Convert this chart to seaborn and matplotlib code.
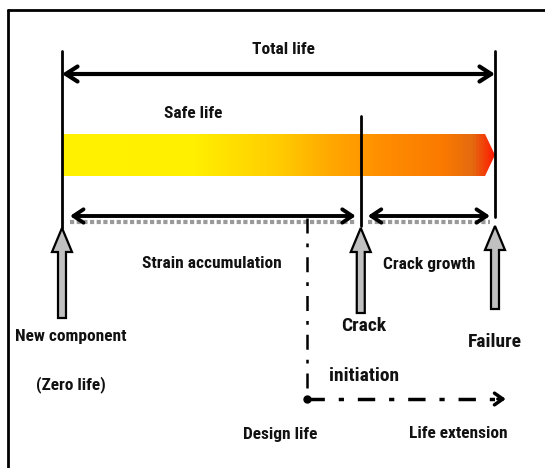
import numpy as np
import matplotlib
matplotlib.use("Agg")
import matplotlib.pyplot as plt
import seaborn as sns
from matplotlib import font_manager as fm
from matplotlib.colors import LinearSegmentedColormap
from matplotlib.patches import Polygon, FancyArrow
from matplotlib.lines import Line2D

# ---- data (life fractions) ----
milestones = ["New component", "Crack initiation", "Failure"]
milestone_life = [0.0, 0.69, 1.0]
design_life = 0.566
extension_end = 1.025
labels = ["Total life", "Safe life", "Strain accumulation", "Crack growth",
          "New component", "(Zero life)", "Crack", "initiation", "Failure",
          "Design life", "Life extension"]

sns.set_theme(style="white")


def pick_font():
    for fam in ["Liberation Sans Narrow", "Roboto Condensed", "Open Sans Condensed"]:
        try:
            fm.findfont(fm.FontProperties(family=fam, weight="bold"), fallback_to_default=False)
            return fam, "normal"
        except Exception:
            pass
    return "DejaVu Sans", "condensed"


FAM, STRETCH = pick_font()
plt.rcParams['font.family'] = [FAM, 'DejaVu Sans']

fig = plt.figure(figsize=(5.45, 4.68), dpi=100)
ax = fig.add_axes([0, 0, 1, 1])
PX = 433.0
ax.set_xlim(-62 / PX, (545 - 62) / PX)
ax.set_ylim(468, 0)
ax.axis("off")

# frame (top and left only visible)
fig.add_artist(Line2D([8/545, 1], [1 - 10/468, 1 - 10/468], color="black", lw=2, transform=fig.transFigure))
fig.add_artist(Line2D([8/545, 8/545], [1 - 10/468, 0], color="black", lw=2, transform=fig.transFigure))

x0, xc, xf = milestone_life

# gradient bar
cmap = LinearSegmentedColormap.from_list("life", [
    (0.0, "#FFF200"), (0.30, "#FFF000"), (0.50, "#FFCC00"), (0.62, "#FFA800"),
    (0.75, "#FF8C00"), (0.88, "#FA7A00"), (0.95, "#E46A10"), (1.0, "#FF1A00")])
grad = np.linspace(0, 1, 400).reshape(1, -1)
bar_top, bar_bot = 134, 176
tip_start = 0.977
im = ax.imshow(grad, cmap=cmap, aspect="auto", extent=[x0, xf, bar_bot, bar_top], zorder=1)
clip = Polygon([[x0, bar_top], [tip_start, bar_top], [xf, (bar_top + bar_bot) / 2],
                [tip_start, bar_bot], [x0, bar_bot]], closed=True, transform=ax.transData)
im.set_clip_path(clip)

# vertical markers
sns.lineplot(x=[x0, x0], y=[51, 228], color="black", lw=2, ax=ax, estimator=None, sort=False)
sns.lineplot(x=[xf, xf], y=[51, 217], color="black", lw=2, ax=ax, estimator=None, sort=False)
sns.lineplot(x=[xc, xc], y=[116, 226], color="black", lw=2, ax=ax, estimator=None, sort=False)

arrow_kw = dict(arrowstyle="<->,head_length=0.7,head_width=0.45", lw=3, color="black",
                shrinkA=0, shrinkB=0)
# total life
ax.annotate("", xy=(x0, 74), xytext=(xf, 74), arrowprops=arrow_kw)
# strain accumulation and crack growth arrows with dotted shadow
seg1 = (x0 + 8 / PX, xc - 5 / PX)
seg2 = (xc + 7 / PX, xf - 5 / PX)
for a, b in (seg1, seg2):
    ax.plot([a, b], [221.5, 221.5], color="#9a9a9a", lw=3, ls=(0, (1, 0.6)), zorder=2)
    ax.annotate("", xy=(a, 216), xytext=(b, 216), arrowprops=dict(
        arrowstyle="<->,head_length=0.6,head_width=0.4", lw=2.8, color="black",
        shrinkA=0, shrinkB=0))

# design life dash-dot lines
ax.plot([design_life, design_life], [218, 399], color="black", lw=1.8, ls=(0, (6, 4, 1.5, 4)))
ax.plot([design_life, extension_end - 6 / PX], [399, 399], color="black", lw=2.5,
        ls=(0, (5, 4, 1.5, 4)))
ax.plot([design_life], [399], marker="o", ms=5, color="black")
ax.annotate("", xy=(extension_end, 399), xytext=(extension_end - 8 / PX, 399),
            arrowprops=dict(arrowstyle="->,head_length=0.5,head_width=0.35", lw=2.5,
                            color="black", shrinkA=0, shrinkB=0))

# grey upward arrows
tips = [228, 228, 226]
bases = [318, 313, 309]
for x, t, b in zip(milestone_life, tips, bases):
    ax.add_patch(FancyArrow(x, b, 0, t - b, width=8 / PX, head_width=20 / PX,
                            head_length=24, length_includes_head=True,
                            facecolor="#C0C0C0", edgecolor="black", lw=1.6, zorder=3))

# text
fs = 10.5 if STRETCH == "condensed" else 12.5
txt = dict(ha="center", va="center", fontweight="bold", color="#111111", fontstretch=STRETCH)
text_pos = [(283, 49), (193, 113), (212, 264), (429, 264), (71, 336), (71, 385),
            (364, 326), (364, 376), (495, 342), (280, 434), (458, 434)]
sizes = [fs, fs, fs, fs, fs, fs, fs + 1.5, fs + 1.5, fs + 1.5, fs, fs]
for lab, (px, py), s in zip(labels, text_pos, sizes):
    ax.text((px - 62) / PX, py, lab, fontsize=s, **txt)

fig.savefig("out.png", dpi=100, facecolor="white")
